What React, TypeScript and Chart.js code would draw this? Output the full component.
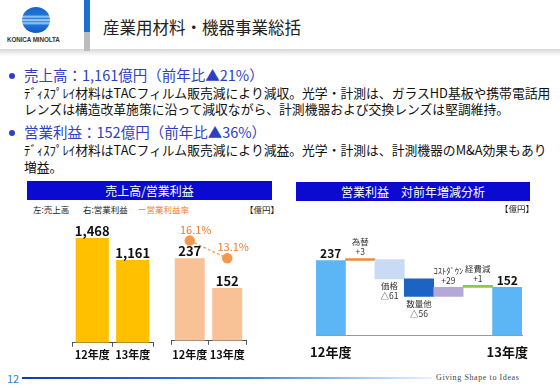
import React, { useEffect, useRef } from 'react';
import { Chart, registerables } from 'chart.js';

Chart.register(...registerables);

const FONT = "'Noto Sans CJK JP', 'Noto Sans', sans-serif";

// ---- data ----
const yearLabels = ['12年度', '13年度'];
const salesValues = [1468, 1161];
const profitValues = [237, 152];
const marginValues = [16.1, 13.1];

const bridgeLabels = ['12年度', '為替', '価格', '数量他', 'ｺｽﾄﾀﾞｳﾝ', '経費減', '13年度'];
const bridgeStarts = [0, 237, 240, 179, 123, 152, 0];
const bridgeEnds = [237, 240, 179, 123, 152, 153, 152];
const bridgeValueText = ['237', '+3', '△61', '△56', '+29', '+1', '152'];
const bridgeColors = ['#5cb6f6', '#f08a3a', '#c8dbf2', '#1b64c4', '#b4a8d6', '#8cc84a', '#5cb6f6'];

const salesLabelPlugin = {
  id: 'salesLabels',
  afterDatasetsDraw(chart: any) {
    const ctx = chart.ctx;
    const meta = chart.getDatasetMeta(0);
    ctx.save();
    ctx.font = `bold 13px ${FONT}`;
    ctx.fillStyle = '#111';
    ctx.textAlign = 'center';
    ctx.textBaseline = 'middle';
    meta.data.forEach((bar: any, i: number) => {
      ctx.fillText(salesValues[i].toLocaleString('en-US'), bar.x, bar.y - 7);
    });
    ctx.restore();
  },
};

const profitLabelPlugin = {
  id: 'profitLabels',
  afterDatasetsDraw(chart: any) {
    const ctx = chart.ctx;
    ctx.save();
    ctx.textAlign = 'center';
    ctx.textBaseline = 'middle';
    const barMeta = chart.getDatasetMeta(1);
    ctx.font = `bold 13px ${FONT}`;
    ctx.fillStyle = '#111';
    barMeta.data.forEach((bar: any, i: number) => {
      ctx.fillText(String(profitValues[i]), bar.x, bar.y - 7);
    });
    const lineMeta = chart.getDatasetMeta(0);
    ctx.font = `11px ${FONT}`;
    ctx.fillStyle = '#ee7d2f';
    lineMeta.data.forEach((pt: any, i: number) => {
      ctx.fillText(marginValues[i].toFixed(1) + '%', pt.x + 6, pt.y - 11);
    });
    ctx.restore();
  },
};

const bridgeLabelPlugin = {
  id: 'bridgeLabels',
  afterDatasetsDraw(chart: any) {
    const ctx = chart.ctx;
    const meta = chart.getDatasetMeta(0);
    ctx.save();
    ctx.textAlign = 'center';
    ctx.textBaseline = 'middle';
    meta.data.forEach((bar: any, i: number) => {
      const top = Math.min(bar.y, bar.base);
      const bottom = Math.max(bar.y, bar.base);
      if (i === 0 || i === bridgeLabels.length - 1) {
        ctx.font = `bold 12px ${FONT}`;
        ctx.fillStyle = '#111';
        ctx.fillText(bridgeValueText[i], bar.x, top - 7);
      } else {
        ctx.font = `8.5px ${FONT}`;
        ctx.fillStyle = '#333';
        if (bridgeEnds[i] >= bridgeStarts[i]) {
          ctx.fillText(bridgeLabels[i], bar.x, top - 17);
          ctx.fillText(bridgeValueText[i], bar.x, top - 7);
        } else {
          ctx.fillText(bridgeLabels[i], bar.x, bottom + 7);
          ctx.fillText(bridgeValueText[i], bar.x, bottom + 17);
        }
      }
    });
    ctx.restore();
  },
};

function ChartCanvas({ make, left, top, width, height }: { make: () => any; left: number; top: number; width: number; height: number }) {
  const ref = useRef<HTMLCanvasElement>(null);
  useEffect(() => {
    const chart = new Chart(ref.current as HTMLCanvasElement, make());
    return () => chart.destroy();
  }, []);
  return (
    <canvas
      ref={ref}
      width={width}
      height={height}
      style={{ position: 'absolute', left, top, width, height }}
    />
  );
}

const bracketX = (pad: number) => ({
  grid: { display: true, drawOnChartArea: false, drawTicks: true, tickLength: 4, color: '#555', offset: true },
  border: { display: true, color: '#555', width: 1 },
  ticks: { font: { family: FONT, size: 11, weight: 'bold' }, color: '#111', padding: pad, autoSkip: false, maxRotation: 0, minRotation: 0 },
});

const makeSales = () => ({
  type: 'bar',
  data: {
    labels: yearLabels,
    datasets: [{ data: salesValues, backgroundColor: '#ffc000', barPercentage: 0.82, categoryPercentage: 1 }],
  },
  options: {
    responsive: false,
    animation: false,
    layout: { padding: { left: 10, right: 10, top: 20, bottom: 8 } },
    plugins: { legend: { display: false }, tooltip: { enabled: false } },
    scales: {
      x: bracketX(1),
      y: { display: false, min: 0, max: 1720 },
    },
  },
  plugins: [salesLabelPlugin],
});

const makeProfit = () => ({
  type: 'bar',
  data: {
    labels: yearLabels,
    datasets: [
      {
        type: 'line',
        data: marginValues,
        yAxisID: 'pct',
        borderColor: '#f5a865',
        borderWidth: 1.5,
        borderDash: [3, 2],
        pointRadius: 4.5,
        pointBackgroundColor: '#f3994f',
        pointBorderColor: '#f3994f',
        order: 0,
      },
      { data: profitValues, backgroundColor: '#f8c196', barPercentage: 0.8, categoryPercentage: 1, order: 1 },
    ],
  },
  options: {
    responsive: false,
    animation: false,
    layout: { padding: { left: 10, right: 10, top: 20, bottom: 6 } },
    plugins: { legend: { display: false }, tooltip: { enabled: false } },
    scales: {
      x: bracketX(3),
      y: { display: false, min: 0, max: 347 },
      pct: { display: false, min: -0.9, max: 19.6 },
    },
  },
  plugins: [profitLabelPlugin],
});

const makeBridge = () => ({
  type: 'bar',
  data: {
    labels: bridgeLabels,
    datasets: [
      {
        data: bridgeStarts.map((s, i) => [s, bridgeEnds[i]]),
        backgroundColor: bridgeColors,
        barPercentage: 1,
        categoryPercentage: 1,
        minBarLength: 2,
      },
    ],
  },
  options: {
    responsive: false,
    animation: false,
    layout: { padding: { left: 15, right: 18, top: 20, bottom: 1 } },
    plugins: { legend: { display: false }, tooltip: { enabled: false } },
    scales: {
      x: {
        grid: { display: false, drawTicks: false },
        border: { display: true, color: '#999', width: 1 },
        ticks: {
          font: { family: FONT, size: 13, weight: 'bold' },
          color: '#111',
          padding: 9,
          autoSkip: false,
          maxRotation: 0,
          minRotation: 0,
          callback: (_v: any, i: number) => (i === 0 || i === bridgeLabels.length - 1 ? bridgeLabels[i] : ''),
        },
      },
      y: { display: false, min: 0, max: 365 },
    },
  },
  plugins: [bridgeLabelPlugin],
});

const abs = (s: React.CSSProperties): React.CSSProperties => ({ position: 'absolute', whiteSpace: 'nowrap', ...s });

function JLine({ text, left, top, width, size, color, weight }: { text: string; left: number; top: number; width?: number; size: number; color: string; weight?: number }) {
  return (
    <div
      style={abs({
        left,
        top,
        width,
        fontSize: size,
        lineHeight: `${size + 4}px`,
        color,
        fontWeight: weight || 400,
        fontFamily: FONT,
        textAlign: width ? 'justify' : 'left',
        textAlignLast: width ? 'justify' : 'auto',
        textJustify: 'inter-character' as any,
      } as any)}
    >
      {text}
    </div>
  );
}

export default function App() {
  return (
    <div style={{ position: 'absolute', left: 0, top: 0, width: 560, height: 388, background: '#fff', overflow: 'hidden', fontFamily: FONT }}>
      {/* header */}
      <div style={abs({ left: 0, top: 48, width: 560, height: 8, background: 'linear-gradient(#d2d2d2, #ffffff)' })} />
      <div style={abs({ left: 0, top: 0, width: 560, height: 49, background: '#fff' })} />
      <div
        style={abs({
          left: 22,
          top: 7,
          width: 28,
          height: 26,
          borderRadius: '50%',
          background:
            'linear-gradient(#1565c8 0%, #1f74d4 30%, #9fd0f7 38%, #2b7fd8 44%, #bfe0fa 50%, #3a8ee0 56%, #9ccdf5 62%, #1f74d4 70%, #1259b8 100%)',
        })}
      />
      <div style={abs({ left: 7, top: 36, fontSize: 6.3, fontWeight: 700, color: '#333', fontFamily: "'Liberation Sans', Arial, sans-serif", letterSpacing: -0.1 })}>
        KONICA MINOLTA
      </div>
      <div style={abs({ left: 84, top: 0, width: 6, height: 32, background: '#1a6fd2' })} />
      <div style={abs({ left: 84, top: 32, width: 6, height: 19, background: '#bdbdbd' })} />
      <JLine text="産業用材料・機器事業総括" left={103} top={17} width={196} size={16.5} color="#222" />

      {/* bullets */}
      <div style={abs({ left: 9, top: 73, width: 6, height: 6, borderRadius: '50%', background: '#2e3fc4' })} />
      <JLine text="売上高：1,161億円（前年比▲21%）" left={24} top={66} width={234} size={14.5} color="#2e3fc4" />
      <JLine text="ﾃﾞｨｽﾌﾟﾚｲ材料はTACフィルム販売減により減収。光学・計測は、ガラスHD基板や携帯電話用" left={24} top={85} width={522} size={12.8} color="#111" />
      <JLine text="レンズは構造改革施策に沿って減収ながら、計測機器および交換レンズは堅調維持。" left={24} top={101} width={459} size={12.8} color="#111" />

      <div style={abs({ left: 9, top: 130, width: 6, height: 6, borderRadius: '50%', background: '#2e3fc4' })} />
      <JLine text="営業利益：152億円（前年比▲36%）" left={24} top={123} width={239} size={14.5} color="#2e3fc4" />
      <JLine text="ﾃﾞｨｽﾌﾟﾚｲ材料はTACフィルム販売減により減益。光学・計測は、計測機器のM&A効果もあり" left={24} top={142} width={488} size={12.8} color="#111" />
      <JLine text="増益。" left={24} top={159} size={12.8} color="#111" />

      {/* left panel */}
      <div style={abs({ left: 27, top: 181, width: 245, height: 19, background: '#0a0ad0', color: '#fff', fontSize: 12, lineHeight: '19px', textAlign: 'center' })}>
        売上高/営業利益
      </div>
      <div style={abs({ left: 33, top: 203, fontSize: 8.5, lineHeight: '12px', color: '#222' })}>左:売上高</div>
      <div style={abs({ left: 83, top: 203, fontSize: 8.5, lineHeight: '12px', color: '#222' })}>右:営業利益</div>
      <div style={abs({ left: 138, top: 203, fontSize: 8.5, lineHeight: '12px', color: '#ee7d2f' })}>ー営業利益率</div>
      <div style={abs({ left: 245, top: 203, fontSize: 8.5, lineHeight: '12px', color: '#222' })}>【億円】</div>

      <ChartCanvas make={makeSales} left={62} top={200} width={101} height={170} />
      <ChartCanvas make={makeProfit} left={161} top={200} width={95} height={170} />

      {/* right panel */}
      <div style={abs({ left: 296, top: 182, width: 234, height: 19, background: '#0a0ad0', color: '#fff', fontSize: 12, lineHeight: '19px', textAlign: 'center' })}>
        営業利益　対前年増減分析
      </div>
      <div style={abs({ left: 500, top: 202, fontSize: 8.5, lineHeight: '12px', color: '#222' })}>【億円】</div>
      <ChartCanvas make={makeBridge} left={300} top={200} width={240} height={170} />

      {/* footer */}
      <div style={abs({ left: 7, top: 371, fontSize: 11, lineHeight: '14px', color: '#2a7fd4' })}>12</div>
      <div style={abs({ left: 22, top: 377, width: 410, height: 2, background: 'linear-gradient(to right, #0b3fa8, #3a86d8 55%, rgba(200,225,250,0.4))' })} />
      <div style={abs({ left: 436, top: 372, fontSize: 8, lineHeight: '12px', color: '#444', fontFamily: "'Liberation Serif', 'DejaVu Serif', serif", letterSpacing: 0.6 })}>
        Giving Shape to Ideas
      </div>
    </div>
  );
}
